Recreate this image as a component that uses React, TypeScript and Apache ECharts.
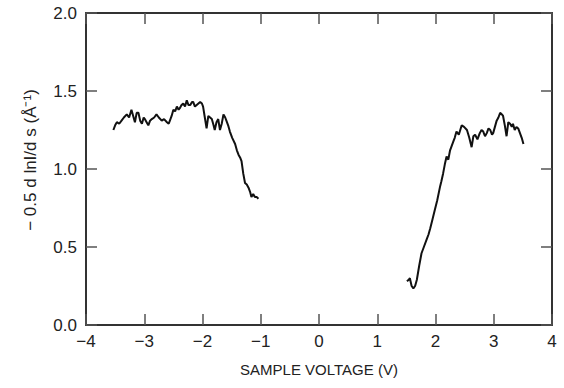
import React, { useEffect, useRef } from "react";
import * as echarts from "echarts";

const xTicks = [-4, -3, -2, -1, 0, 1, 2, 3, 4];
const yTicks = [0, 0.5, 1.0, 1.5, 2.0];

const negVoltage = [
  -3.53, -3.5, -3.47, -3.43, -3.39, -3.35, -3.3, -3.26, -3.22, -3.19, -3.16, -3.13, -3.1, -3.07, -3.04, -3.01,
  -2.99, -2.96, -2.93, -2.9, -2.87, -2.83, -2.79, -2.75, -2.7, -2.66, -2.61, -2.58, -2.56, -2.53, -2.5, -2.47,
  -2.44, -2.41, -2.39, -2.36, -2.33, -2.3, -2.27, -2.24, -2.21, -2.18, -2.16, -2.13, -2.1, -2.07, -2.04, -2.01,
  -1.99, -1.96, -1.93, -1.9, -1.87, -1.84, -1.81, -1.79, -1.76, -1.73, -1.7, -1.67, -1.64, -1.61, -1.59, -1.56,
  -1.53, -1.49, -1.44, -1.41, -1.38, -1.35, -1.33, -1.3, -1.27, -1.24, -1.21, -1.18, -1.16, -1.13, -1.1, -1.07, -1.04,
];
const negSignal = [
  1.25, 1.28, 1.3, 1.29, 1.31, 1.33, 1.35, 1.33, 1.38, 1.34, 1.3, 1.36, 1.36, 1.31, 1.29, 1.33,
  1.32, 1.3, 1.28, 1.31, 1.32, 1.33, 1.35, 1.33, 1.31, 1.32, 1.3, 1.29, 1.31, 1.34, 1.38, 1.37,
  1.4, 1.38, 1.39, 1.41, 1.42, 1.4, 1.44, 1.41, 1.41, 1.43, 1.43, 1.4, 1.41, 1.42, 1.43, 1.42,
  1.4, 1.33, 1.26, 1.34, 1.33, 1.32, 1.28, 1.25, 1.3, 1.32, 1.25, 1.29, 1.35, 1.33, 1.31, 1.28,
  1.24, 1.2, 1.16, 1.12, 1.09, 1.07, 1.05, 0.97, 0.91, 0.9, 0.88, 0.85, 0.82, 0.84, 0.82, 0.82, 0.81,
];

const posVoltage = [
  1.51, 1.54, 1.56, 1.59, 1.62, 1.65, 1.68, 1.72, 1.76, 1.8, 1.85, 1.88, 1.91, 1.95, 1.99, 2.03,
  2.08, 2.1, 2.13, 2.16, 2.19, 2.22, 2.25, 2.28, 2.31, 2.33, 2.36, 2.4, 2.45, 2.49, 2.54, 2.58,
  2.62, 2.65, 2.68, 2.72, 2.76, 2.79, 2.82, 2.85, 2.88, 2.91, 2.94, 2.97, 2.99, 3.02, 3.05, 3.08,
  3.11, 3.14, 3.16, 3.19, 3.22, 3.25, 3.28, 3.31, 3.33, 3.36, 3.39, 3.42, 3.45, 3.48, 3.51,
];
const posSignal = [
  0.28, 0.29, 0.3, 0.25, 0.235, 0.25, 0.29, 0.38, 0.46, 0.5, 0.55, 0.58, 0.62, 0.68, 0.74, 0.8,
  0.89, 0.92, 0.97, 1.03, 1.08, 1.06, 1.12, 1.15, 1.18, 1.2, 1.24, 1.22, 1.28, 1.27, 1.25, 1.2,
  1.14, 1.21, 1.22, 1.19, 1.23, 1.25, 1.24, 1.21, 1.23, 1.26, 1.25, 1.22, 1.23, 1.27, 1.31, 1.33,
  1.36, 1.35, 1.34, 1.28, 1.21, 1.3, 1.29, 1.27, 1.29, 1.25, 1.27, 1.26, 1.23, 1.2, 1.16,
];

const FONT = "Liberation Sans";
const AXIS_COLOR = "#333";

function fmtMinus(v: number, digits: number) {
  const s = v.toFixed(digits);
  return s.replace("-", "\u2212");
}

export default function App() {
  const ref = useRef<HTMLDivElement>(null);
  useEffect(() => {
    if (!ref.current) return;
    const chart = echarts.init(ref.current, null, { renderer: "svg" });
    const axisLine = { show: true, onZero: false, lineStyle: { color: AXIS_COLOR, width: 2 } };
    const axisTick = { show: true, inside: true, length: 11, lineStyle: { color: "#555", width: 1.5 } };
    const label = { color: "#222", fontFamily: FONT, fontSize: 17 };
    chart.setOption({
      animation: false,
      backgroundColor: "#fff",
      grid: { left: 86, right: 12, top: 13, bottom: 63, containLabel: false },
      xAxis: [
        {
          type: "value",
          position: "bottom",
          min: xTicks[0],
          max: xTicks[xTicks.length - 1],
          interval: 1,
          axisLine,
          axisTick,
          splitLine: { show: false },
          axisLabel: { ...label, margin: 8, formatter: (v: number) => fmtMinus(v, 0) },
          name: "SAMPLE VOLTAGE (V)",
          nameLocation: "middle",
          nameGap: 37,
          nameTextStyle: { color: "#222", fontFamily: FONT, fontSize: 15 },
        },
        {
          type: "value",
          position: "top",
          min: xTicks[0],
          max: xTicks[xTicks.length - 1],
          interval: 1,
          axisLine,
          axisTick,
          splitLine: { show: false },
          axisLabel: { show: false },
        },
      ],
      yAxis: [
        {
          type: "value",
          position: "left",
          min: yTicks[0],
          max: yTicks[yTicks.length - 1],
          interval: 0.5,
          axisLine,
          axisTick,
          splitLine: { show: false },
          axisLabel: { ...label, margin: 9, formatter: (v: number) => fmtMinus(v, 1) },
        },
        {
          type: "value",
          position: "right",
          min: yTicks[0],
          max: yTicks[yTicks.length - 1],
          interval: 0.5,
          axisLine,
          axisTick,
          splitLine: { show: false },
          axisLabel: { show: false },
        },
      ],
      graphic: [
        {
          type: "text",
          x: 30,
          y: 160,
          rotation: Math.PI / 2,
          style: {
            text: "\u2212 0.5 d lnI/d s (\u00C5\u207B\u00B9)",
            fill: "#222",
            font: `17px ${FONT}`,
            align: "center",
            verticalAlign: "middle",
          },
        },
      ],
      series: [
        {
          type: "line",
          data: negVoltage.map((v, i) => [v, negSignal[i]]),
          showSymbol: false,
          lineStyle: { color: "#111", width: 2 },
        },
        {
          type: "line",
          data: posVoltage.map((v, i) => [v, posSignal[i]]),
          showSymbol: false,
          lineStyle: { color: "#111", width: 2 },
        },
      ],
    });
    return () => chart.dispose();
  }, []);
  return <div ref={ref} style={{ width: 564, height: 388, position: "absolute", left: 0, top: 0 }} />;
}
